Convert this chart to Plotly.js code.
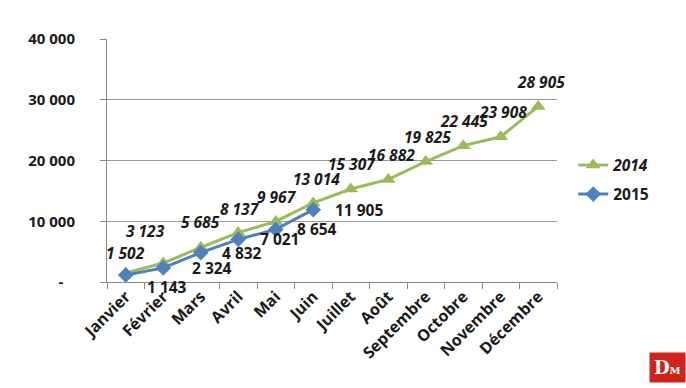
<!DOCTYPE html>
<html>
<head>
<meta charset="utf-8">
<script src="https://cdn.plot.ly/plotly-3.0.1.min.js"></script>
<style>html,body{margin:0;padding:0;background:#fff;}#chart{width:686px;height:388px;}</style>
</head>
<body>
<div id="chart"></div>
<script>
// ---- data ----
var months = ["Janvier","Février","Mars","Avril","Mai","Juin","Juillet","Août","Septembre","Octobre","Novembre","Décembre"];
var values2014 = [1502, 3123, 5685, 8137, 9967, 13014, 15307, 16882, 19825, 22445, 23908, 28905];
var values2015 = [1143, 2324, 4832, 7021, 8654, 11905];
var yTickVals = [0, 10000, 20000, 30000, 40000];
var yTickText = ["-\u00a0\u00a0\u00a0", "10 000", "20 000", "30 000", "40 000"];

// ---- label styling (offsets in px) ----
var shift2014x = [0, -18, 0, 2, 1, 3, 1, 3, 2, 1, 2, 3];
var shift2014y = [20, 32, 25, 24, 24, 24, 25, 24, 25, 25, 25, 24];
var shift2015x = [19, 27, 19, 20, 19, 20];
var shift2015y = [-12, 0, 0, 0, 0, 0];

function fmt(v){ return String(v).replace(/\B(?=(\d{3})+(?!\d))/g, " "); }

var FONT = "Open Sans, Liberation Sans, sans-serif";
var green = "#9BBB59", blue = "#4F81BD";

var traces = [
  {x: months, y: values2014, type: "scatter", mode: "lines+markers", name: "<i>2014</i>",
   legendgroup: "a",
   line: {color: green, width: 3}, marker: {symbol: "triangle-up", size: 13, color: green}},
  {x: months.slice(0, values2015.length), y: values2015, type: "scatter", mode: "lines+markers", name: "2015",
   legendgroup: "b",
   line: {color: blue, width: 3}, marker: {symbol: "diamond", size: 12, color: blue}}
];

var annotations = [];
values2014.forEach(function(v, i){
  annotations.push({x: months[i], y: v, xref: "x", yref: "y", text: "<i>" + fmt(v) + "</i>", showarrow: false,
    xanchor: "center", yanchor: "middle", xshift: shift2014x[i], yshift: shift2014y[i],
    font: {family: FONT, size: 15.5, color: "#1a1a1a", weight: "bold"}});
});
values2015.forEach(function(v, i){
  annotations.push({x: months[i], y: v, xref: "x", yref: "y", text: fmt(v), showarrow: false,
    xanchor: "left", yanchor: "middle", xshift: shift2015x[i], yshift: shift2015y[i],
    font: {family: FONT, size: 15.5, color: "#1a1a1a", weight: "bold"}});
});
// logo
annotations.push({x: 1, y: 0, xref: "paper", yref: "paper", xanchor: "right", yanchor: "bottom",
  xshift: 129, yshift: -101, showarrow: false,
  text: "D<span style='font-size:10px'>M</span>", bgcolor: "#d0231c", borderpad: 4,
  font: {family: "DejaVu Serif, serif", size: 18, color: "#ffffff", weight: "bold"}});

var layout = {
  width: 686, height: 388,
  margin: {l: 107, r: 129, t: 39, b: 106},
  paper_bgcolor: "#ffffff", plot_bgcolor: "#ffffff",
  showlegend: true,
  font: {family: FONT, color: "#1a1a1a"},
  xaxis: {type: "category", range: [-0.5, 11.5], tickangle: -45, ticks: "outside", tickson: "boundaries", ticklen: 6,
    tickcolor: "#8c8c8c", showline: true, linecolor: "#8c8c8c", linewidth: 1, showgrid: false,
    ticklabelstandoff: -2,
    tickfont: {family: FONT, size: 16, color: "#1a1a1a", weight: "bold"}, fixedrange: true},
  yaxis: {range: [0, 40000], tickvals: yTickVals, ticktext: yTickText, ticks: "outside", ticklen: 6,
    tickcolor: "#8c8c8c", showline: true, linecolor: "#8c8c8c", linewidth: 1,
    showgrid: true, gridcolor: "#9a9a9a", gridwidth: 1, zeroline: false, ticklabelstandoff: 22,
    tickfont: {family: FONT, size: 15, color: "#1a1a1a", weight: "bold"}, fixedrange: true},
  legend: {x: 1.036, y: 0.55, xanchor: "left", yanchor: "top", traceorder: "grouped", tracegroupgap: 6,
    font: {family: FONT, size: 15.5, color: "#1a1a1a", weight: "bold"}, bgcolor: "rgba(0,0,0,0)"},
  annotations: annotations
};

Plotly.newPlot("chart", traces, layout, {displayModeBar: false, staticPlot: true});
</script>
</body>
</html>
